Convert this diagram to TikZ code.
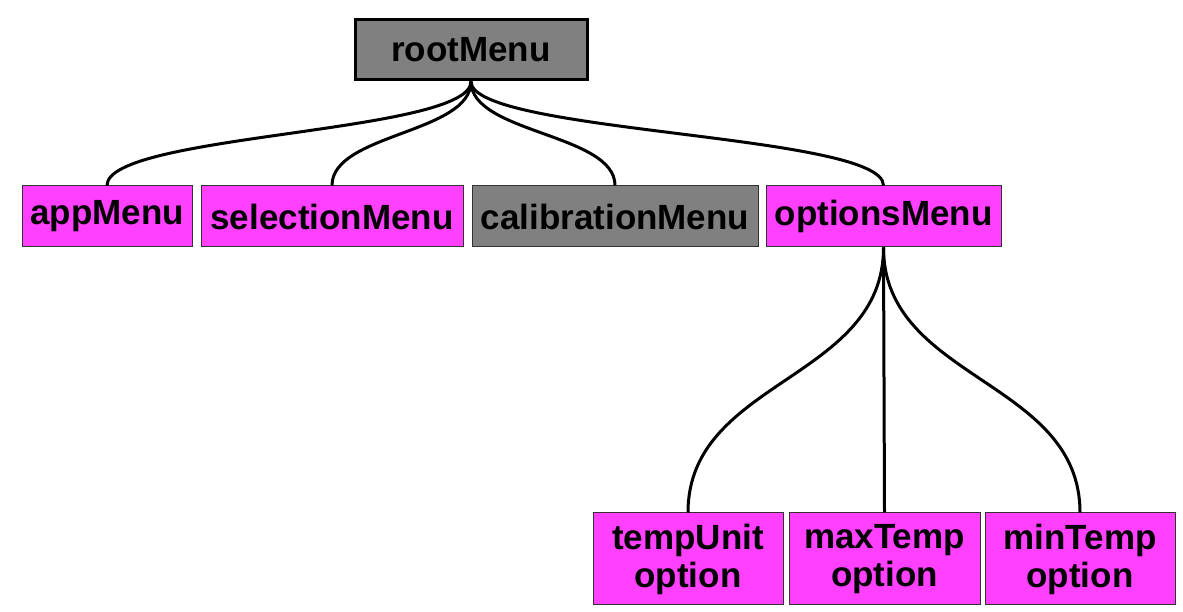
\documentclass[tikz,border=0pt]{standalone}
\usepackage{fontspec}
\setmainfont{Liberation Sans}
\usetikzlibrary{positioning}
\definecolor{cmagenta}{HTML}{FF40FF}
\definecolor{cgray}{HTML}{808080}
\tikzset{
  every picture/.style={font=\bfseries\fontsize{35}{38}\selectfont},
  menubox/.style={draw=black!80, fill=#1, line width=1pt, inner sep=0pt, align=center, minimum height=61pt},
  menubox/.default=cmagenta,
  optbox/.style={menubox, minimum height=92pt},
  link/.style={draw=black, line width=3pt},
}
\begin{document}
\begin{tikzpicture}[x=1pt, y=1pt]
  \useasboundingbox (0,0) rectangle (1183,612);
  % ---------- root ----------
  \node[menubox=cgray, draw=black, line width=3pt, minimum width=232pt, minimum height=60pt] (root) at (471,562) {rootMenu};
  % ---------- first level ----------
  \node[menubox, minimum width=170pt] (app) at (107,395.5) {appMenu};
  \node[menubox, minimum width=262pt] (selection) at (332,395.5) {selectionMenu};
  \node[menubox=cgray, minimum width=286pt] (calibration) at (615,395.5) {calibrationMenu};
  \node[menubox, minimum width=235pt] (options) at (883.5,395.5) {optionsMenu};
  % ---------- options ----------
  \node[optbox, minimum width=190pt] (tempunit) at (688,53) {tempUnit\\option};
  \node[optbox, minimum width=191pt] (maxtemp) at (884.5,53) {maxTemp\\option};
  \node[optbox, minimum width=190pt] (mintemp) at (1080,53) {minTemp\\option};
  % links root -> menus
  \foreach \child in {app, selection, calibration, options}
    \draw[link] (root.south) .. controls +(0,-52) and +(0,52) .. (\child.north);
  % links options -> option leaves
  \foreach \child in {tempunit, maxtemp, mintemp}
    \draw[link] (options.south) .. controls +(0,-133) and +(0,133) .. (\child.north);
\end{tikzpicture}
\end{document}
